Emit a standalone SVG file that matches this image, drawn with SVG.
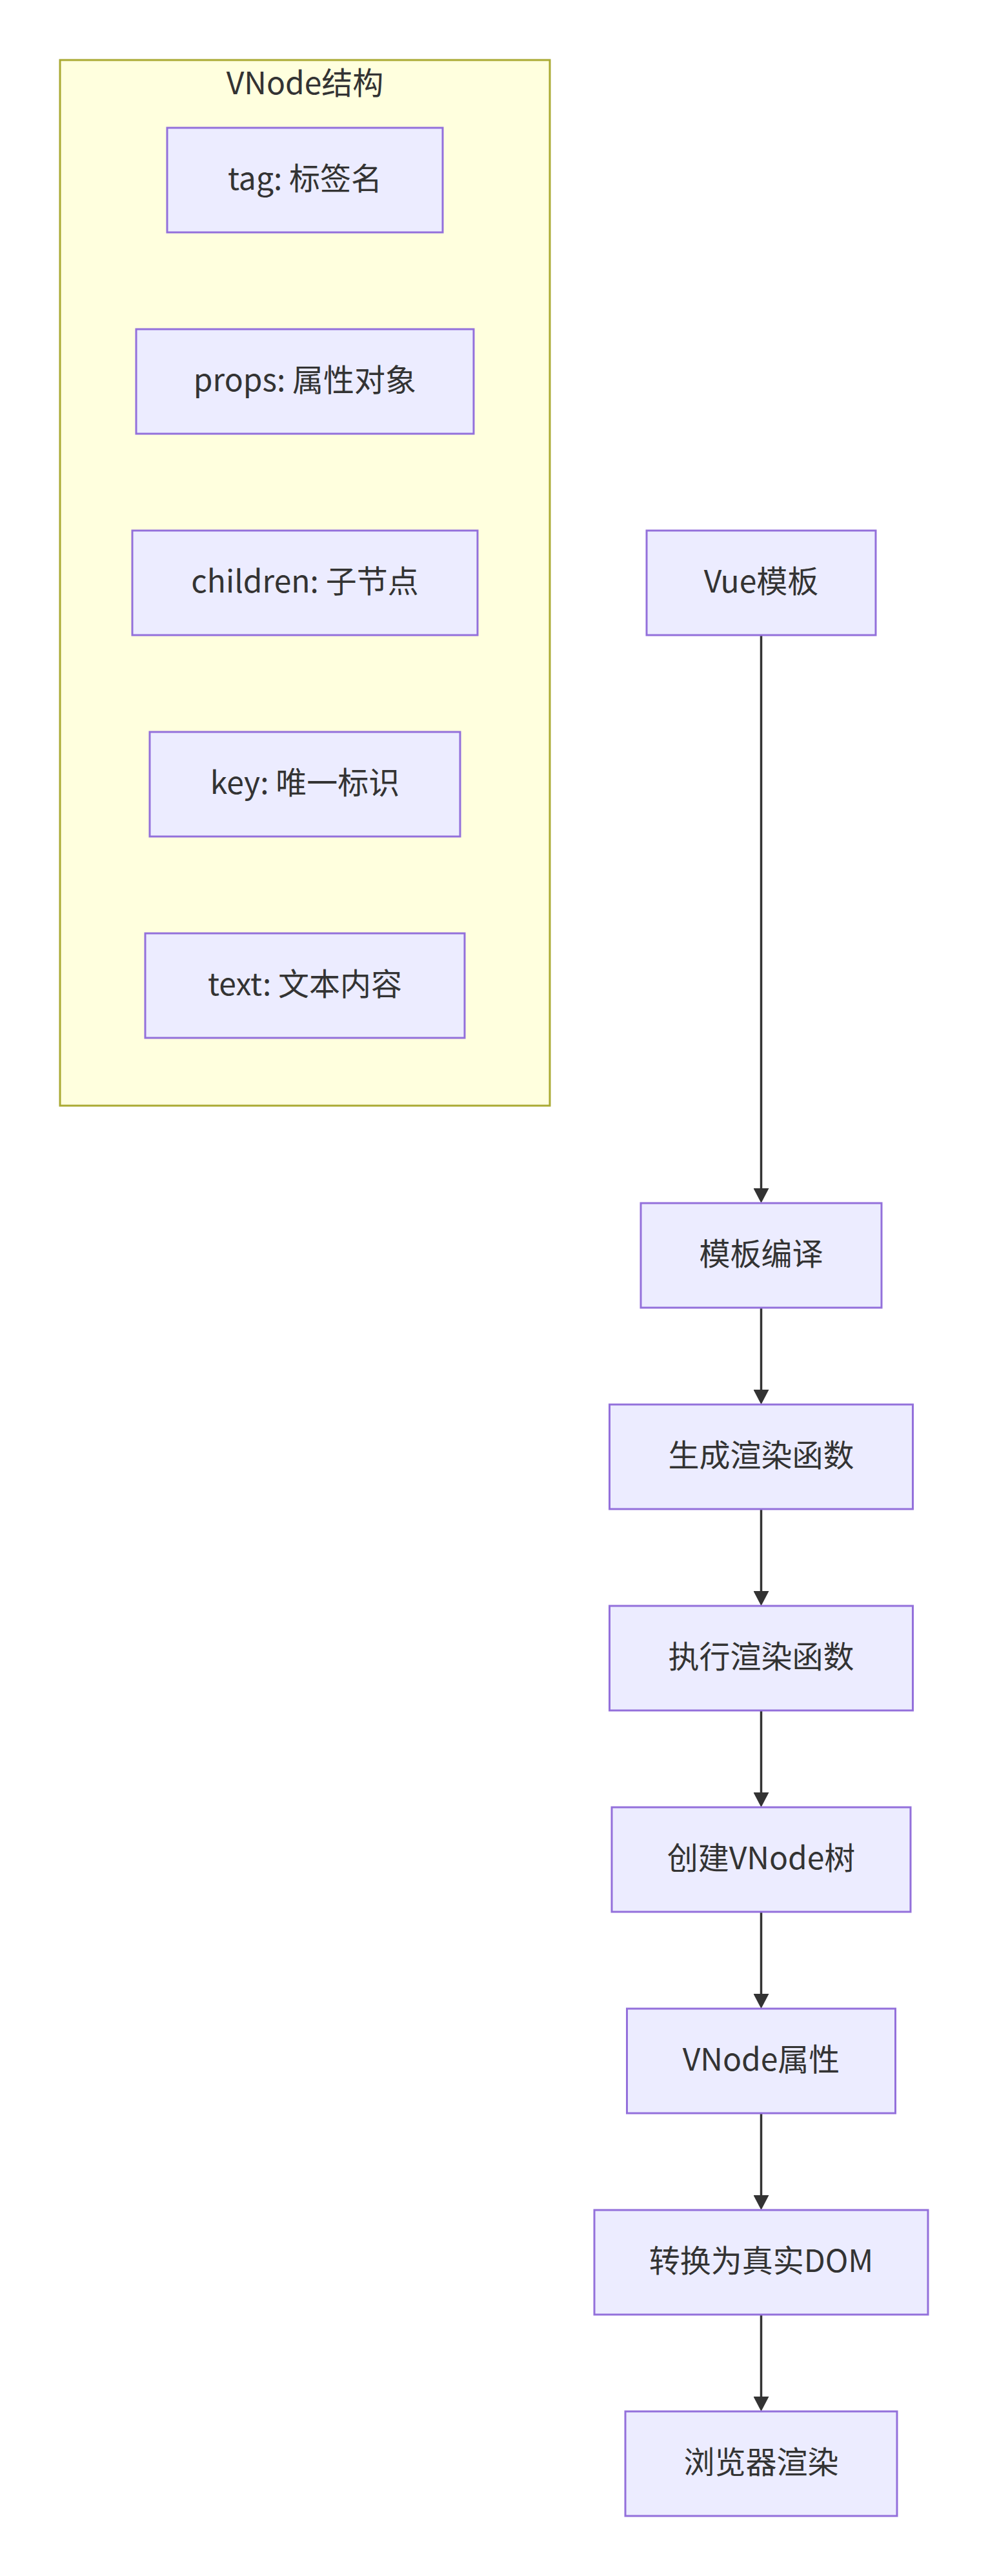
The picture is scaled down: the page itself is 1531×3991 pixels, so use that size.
<svg xmlns="http://www.w3.org/2000/svg" width="1531" height="3991" viewBox="0 0 1531 3991">
<style>
.cluster{fill:#ffffde;stroke:#aaaa33;stroke-width:3}
.node rect{fill:#ececff;stroke:#9370db;stroke-width:3}
text{font-family:"Noto Sans CJK SC","Noto Sans",sans-serif;font-size:48px;fill:#333333;text-anchor:middle}
.edge{stroke:#333333;stroke-width:3.5;fill:none}
</style>
<defs>
<marker id="arrow" markerUnits="userSpaceOnUse" markerWidth="24" markerHeight="24" refX="0" refY="12" orient="auto" viewBox="0 0 24 24">
<path d="M0,0 L23,12 L0,24 z" fill="#333333"/>
</marker>
</defs>
<rect width="1531" height="3991" fill="#ffffff"/>
<g id="cluster-vnode">
<rect class="cluster" x="93" y="93" width="759" height="1620"/>
<text x="472.5" y="146">VNode结构</text>
</g>
<g id="connectors">
<path class="edge" d="M1179.5,984 L1179.5,1841" marker-end="url(#arrow)"/>
<path class="edge" d="M1179.5,2026 L1179.5,2153" marker-end="url(#arrow)"/>
<path class="edge" d="M1179.5,2338 L1179.5,2465" marker-end="url(#arrow)"/>
<path class="edge" d="M1179.5,2650 L1179.5,2777" marker-end="url(#arrow)"/>
<path class="edge" d="M1179.5,2962 L1179.5,3089" marker-end="url(#arrow)"/>
<path class="edge" d="M1179.5,3274 L1179.5,3401" marker-end="url(#arrow)"/>
<path class="edge" d="M1179.5,3586 L1179.5,3713" marker-end="url(#arrow)"/>
</g>
<g id="node-tag" class="node"><rect x="259" y="198" width="427" height="162"/><text x="472.5" y="294">tag: 标签名</text></g>
<g id="node-props" class="node"><rect x="211" y="510" width="523" height="162"/><text x="472.5" y="606">props: 属性对象</text></g>
<g id="node-children" class="node"><rect x="205" y="822" width="535" height="162"/><text x="472.5" y="918">children: 子节点</text></g>
<g id="node-key" class="node"><rect x="232" y="1134" width="481" height="162"/><text x="472.5" y="1230">key: 唯一标识</text></g>
<g id="node-text" class="node"><rect x="225" y="1446" width="495" height="162"/><text x="472.5" y="1542">text: 文本内容</text></g>
<g id="node-vue" class="node"><rect x="1002" y="822" width="355" height="162"/><text x="1179.5" y="918">Vue模板</text></g>
<g id="node-compile" class="node"><rect x="993" y="1864" width="373" height="162"/><text x="1179.5" y="1960">模板编译</text></g>
<g id="node-genrender" class="node"><rect x="944.5" y="2176" width="470" height="162"/><text x="1179.5" y="2272">生成渲染函数</text></g>
<g id="node-execrender" class="node"><rect x="944.5" y="2488" width="470" height="162"/><text x="1179.5" y="2584">执行渲染函数</text></g>
<g id="node-createtree" class="node"><rect x="948" y="2800" width="463" height="162"/><text x="1179.5" y="2896">创建VNode树</text></g>
<g id="node-vnodeattr" class="node"><rect x="971.5" y="3112" width="416" height="162"/><text x="1179.5" y="3208">VNode属性</text></g>
<g id="node-todom" class="node"><rect x="921" y="3424" width="517" height="162"/><text x="1179.5" y="3520">转换为真实DOM</text></g>
<g id="node-browser" class="node"><rect x="969" y="3736" width="421" height="162"/><text x="1179.5" y="3832">浏览器渲染</text></g>
</svg>
